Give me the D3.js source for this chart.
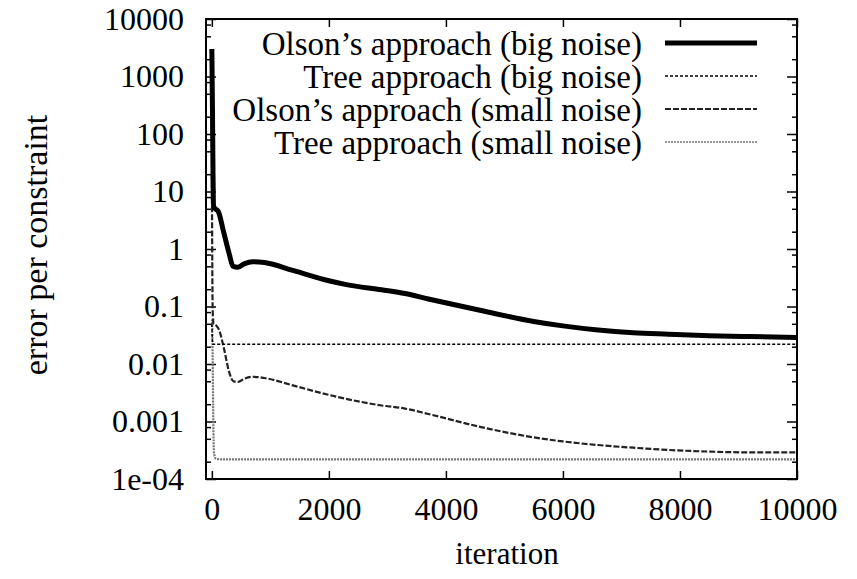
<!DOCTYPE html>
<html>
<head>
<meta charset="utf-8">
<script src="https://cdn.jsdelivr.net/npm/d3@7"></script>
<style>
  body { margin: 0; background: #fff; }
  text { font-family: "Liberation Serif", "Times New Roman", serif; fill: #000; }
</style>
</head>
<body>
<div id="chart"></div>
<script>
// Data: [iteration, error per constraint]
var olsonBig = [[0, 3000], [10, 300], [20, 20], [30, 5.5], [60, 5], [110, 4.5], [200, 2.0],
  [300, 0.8], [360, 0.5], [440, 0.48], [550, 0.55], [700, 0.6], [900, 0.58], [1400, 0.42],
  [2000, 0.28], [2300, 0.24], [2900, 0.195], [3300, 0.168], [3700, 0.135], [4600, 0.085],
  [5500, 0.055], [6000, 0.046], [6600, 0.039], [7200, 0.035], [7800, 0.033], [8500, 0.031],
  [9200, 0.030], [10000, 0.029]];
var treeBig = [[0, 0.05], [15, 0.022], [10000, 0.022]];
var olsonSmall = [[0, 20], [15, 0.08], [30, 0.05], [70, 0.047], [120, 0.04], [200, 0.02],
  [300, 0.007], [370, 0.005], [450, 0.0049], [550, 0.0055], [700, 0.006], [900, 0.0057],
  [1400, 0.0042], [2000, 0.0029], [2900, 0.0019], [3300, 0.00168], [3700, 0.00135],
  [4600, 0.0008], [5500, 0.00053], [6000, 0.00045], [6600, 0.00039], [7200, 0.00035],
  [7800, 0.00032], [8500, 0.0003], [9200, 0.00029], [10000, 0.00029]];
var treeSmall = [[0, 0.06], [5, 0.05], [15, 0.01], [25, 0.001], [35, 0.0003], [60, 0.00023],
  [150, 0.00022], [10000, 0.00022]];

var seriesNames = ["Olson\u2019s approach (big noise)", "Tree approach (big noise)",
  "Olson\u2019s approach (small noise)", "Tree approach (small noise)"];
var xTicks = [0, 2000, 4000, 6000, 8000, 10000];
var yTicks = [1e-4, 1e-3, 1e-2, 1e-1, 1, 10, 100, 1000, 10000];
var yTickLabels = ["1e-04", "0.001", "0.01", "0.1", "1", "10", "100", "1000", "10000"];
var yMinorMult = [2, 5, 8];

// Set up chart
var svgWidth = 857;
var svgHeight = 579;
var margin = {top: 19, right: 60, bottom: 100, left: 206};
var width = svgWidth - margin.left - margin.right;
var height = svgHeight - margin.top - margin.bottom;

var svg = d3.select("#chart")
  .append("svg")
  .attr("width", svgWidth)
  .attr("height", svgHeight);

var chartGroup = svg.append("g")
  .attr("transform", `translate(${margin.left}, ${margin.top})`);

var xScale = d3.scaleLinear().domain([-100, 10000]).range([0, width]);
var yScale = d3.scaleLog().domain([1e-4, 1e4]).range([height, 0]);

var minorVals = [];
yTicks.slice(0, -1).forEach(function(t) {
  yMinorMult.forEach(function(m) { minorVals.push(t * m); });
});

var fontSize = 32;

// bottom axis with labels, ticks pointing inward
chartGroup.append("g")
  .attr("transform", `translate(0, ${height})`)
  .call(d3.axisBottom(xScale).tickValues(xTicks).tickSize(-8).tickPadding(18).tickFormat(d3.format("d")));
chartGroup.append("g")
  .call(d3.axisTop(xScale).tickValues(xTicks).tickSize(-8).tickFormat(""));

chartGroup.append("g")
  .call(d3.axisLeft(yScale).tickValues(yTicks).tickSize(-10).tickPadding(22)
    .tickFormat(function(d, i) { return yTickLabels[i]; }));
chartGroup.append("g")
  .call(d3.axisLeft(yScale).tickValues(minorVals).tickSize(-5).tickFormat(""));
chartGroup.append("g")
  .attr("transform", `translate(${width}, 0)`)
  .call(d3.axisRight(yScale).tickValues(yTicks).tickSize(-10).tickFormat(""));
chartGroup.append("g")
  .attr("transform", `translate(${width}, 0)`)
  .call(d3.axisRight(yScale).tickValues(minorVals).tickSize(-5).tickFormat(""));

chartGroup.selectAll(".domain").remove();
chartGroup.selectAll(".tick line").attr("stroke", "#000").attr("stroke-width", 1.5);
chartGroup.selectAll(".tick text")
  .style("font-size", fontSize + "px")
  .style("font-family", "'Liberation Serif', serif")
  .attr("fill", "#000");

// lines
var styles = [
  {data: olsonBig, color: "#000", w: 5, dash: null},
  {data: treeBig, color: "#000", w: 1.5, dash: "3,2"},
  {data: olsonSmall, color: "#222", w: 2.2, dash: "6,2"},
  {data: treeSmall, color: "#777", w: 2.2, dash: "2,1"}
];

var line = d3.line()
  .x(d => xScale(d[0]))
  .y(d => yScale(d[1]))
  .curve(d3.curveMonotoneX);

var plotArea = chartGroup.append("g");
styles.slice().reverse().forEach(function(s) {
  plotArea.append("path")
    .datum(s.data)
    .attr("fill", "none")
    .attr("stroke", s.color)
    .attr("stroke-width", s.w)
    .attr("stroke-dasharray", s.dash)
    .attr("stroke-linejoin", "round")
    .attr("d", line);
});

// legend
var legendY = [43, 76, 109, 142];
var legend = svg.append("g");
seriesNames.forEach(function(name, i) {
  legend.append("text")
    .attr("x", 642)
    .attr("y", legendY[i])
    .attr("dy", "0.35em")
    .style("text-anchor", "end")
    .style("font-size", "33px")
    .text(name);
  legend.append("line")
    .attr("x1", 665).attr("x2", 757)
    .attr("y1", legendY[i]).attr("y2", legendY[i])
    .attr("stroke", i == 3 ? "#999" : styles[i].color)
    .attr("stroke-width", styles[i].w)
    .attr("stroke-dasharray", styles[i].dash);
});

// frame
chartGroup.append("rect")
  .attr("width", width)
  .attr("height", height)
  .attr("fill", "none")
  .attr("stroke", "#000")
  .attr("stroke-width", 2);

// y-axis label
chartGroup.append("text")
  .attr("transform", "rotate(-90)")
  .attr("x", 0 - 226)
  .attr("y", 35 - margin.left)
  .attr("dy", "0.35em")
  .style("text-anchor", "middle")
  .style("font-size", "34px")
  .text("error per constraint");

// x-axis label
chartGroup.append("text")
  .attr("x", 507 - margin.left)
  .attr("y", 553 - margin.top)
  .attr("dy", "0.35em")
  .style("text-anchor", "middle")
  .style("font-size", "31px")
  .text("iteration");
</script>
</body>
</html>
